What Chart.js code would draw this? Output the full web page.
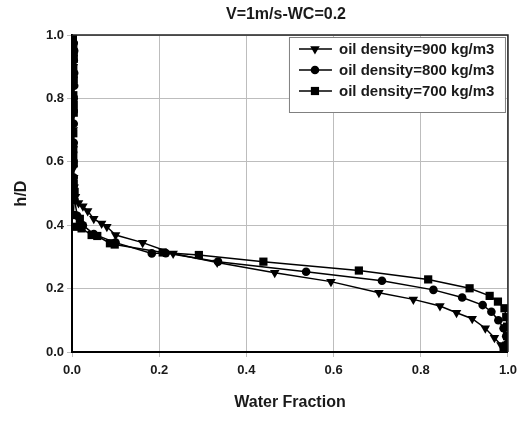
<!DOCTYPE html>
<html>
<head>
<meta charset="utf-8">
<script src="https://cdn.jsdelivr.net/npm/chart.js@4/dist/chart.umd.min.js"></script>
<style>
  html, body { margin: 0; padding: 0; background: #fff; }
  canvas { display: block; }
</style>
</head>
<body>
<canvas id="chart" width="523" height="421"></canvas>
<script>
// Profile h/D vs water fraction, three oil densities

const TITLE = 'V=1m/s-WC=0.2';
const X_TITLE = 'Water Fraction';
const Y_TITLE = 'h/D';
const SERIES_LABELS = ['oil density=900 kg/m3', 'oil density=800 kg/m3', 'oil density=700 kg/m3'];

// oil density 900 (triangles)
const x900 = [0.003, 0.003, 0.003, 0.003, 0.003, 0.003, 0.003, 0.003, 0.003, 0.003, 0.004, 0.005, 0.008, 0.015, 0.025, 0.036, 0.05, 0.068, 0.08, 0.1, 0.162, 0.232, 0.333, 0.465, 0.594, 0.704, 0.783, 0.844, 0.882, 0.918, 0.948, 0.969, 0.984, 0.995];
const y900 = [1.0, 0.97, 0.94, 0.9, 0.86, 0.8, 0.75, 0.7, 0.64, 0.58, 0.55, 0.52, 0.49, 0.47, 0.46, 0.445, 0.42, 0.405, 0.395, 0.369, 0.345, 0.311, 0.282, 0.25, 0.222, 0.187, 0.166, 0.145, 0.124, 0.105, 0.075, 0.045, 0.022, 0.005];

// oil density 800 (circles)
const x800 = [0.002, 0.004, 0.005, 0.004, 0.005, 0.005, 0.004, 0.004, 0.004, 0.004, 0.003, 0.004, 0.006, 0.012, 0.025, 0.05, 0.1, 0.183, 0.215, 0.335, 0.537, 0.711, 0.829, 0.895, 0.942, 0.962, 0.978, 0.99, 0.996, 0.998, 0.997];
const y800 = [1.0, 0.975, 0.95, 0.92, 0.88, 0.84, 0.8, 0.76, 0.72, 0.66, 0.6, 0.55, 0.48, 0.43, 0.4, 0.372, 0.345, 0.311, 0.312, 0.285, 0.253, 0.225, 0.196, 0.172, 0.148, 0.127, 0.1, 0.075, 0.05, 0.025, 0.005];

// oil density 700 (squares)
const x700 = [0.0, 0.002, 0.003, 0.004, 0.004, 0.003, 0.004, 0.003, 0.004, 0.004, 0.003, 0.003, 0.003, 0.004, 0.004, 0.006, 0.003, 0.018, 0.01, 0.022, 0.045, 0.058, 0.087, 0.098, 0.208, 0.291, 0.439, 0.658, 0.817, 0.912, 0.958, 0.977, 0.992, 0.996, 0.998, 0.998, 0.996, 0.99];
const y700 = [1.0, 0.985, 0.965, 0.945, 0.925, 0.895, 0.86, 0.81, 0.78, 0.755, 0.69, 0.64, 0.62, 0.595, 0.53, 0.505, 0.432, 0.42, 0.395, 0.39, 0.369, 0.366, 0.343, 0.339, 0.314, 0.306, 0.285, 0.257, 0.229, 0.201, 0.177, 0.159, 0.138, 0.11, 0.08, 0.05, 0.02, 0.005];

const X_TICKS = [0, 0.2, 0.4, 0.6, 0.8, 1.0];
const Y_TICKS = [0, 0.2, 0.4, 0.6, 0.8, 1.0];

const FONT = 'Arial, "Liberation Sans", sans-serif';
const INK = '#1a1a1a';

function pts(xs, ys) {
  return xs.map((x, i) => ({ x: x, y: ys[i] }));
}

function series(label, xs, ys, style, radius, rotation) {
  return {
    label: label,
    data: pts(xs, ys),
    showLine: true,
    borderColor: '#000',
    borderWidth: 1.5,
    backgroundColor: '#000',
    pointStyle: style,
    pointRotation: rotation,
    pointRadius: radius,
    pointBorderWidth: 0,
    pointBackgroundColor: '#000',
    tension: 0,
  };
}

// draw a marker the same way for the legend
function marker(ctx, style, x, y, r) {
  ctx.beginPath();
  if (style === 'triangle') {
    // pointing down
    ctx.moveTo(x - r * 0.866, y - r * 0.5);
    ctx.lineTo(x + r * 0.866, y - r * 0.5);
    ctx.lineTo(x, y + r);
    ctx.closePath();
  } else if (style === 'rect') {
    const s = r * Math.SQRT1_2;
    ctx.rect(x - s, y - s, 2 * s, 2 * s);
  } else {
    ctx.arc(x, y, r, 0, Math.PI * 2);
  }
  ctx.fill();
}

const framePlugin = {
  id: 'frame',
  afterDraw(chart) {
    const { ctx, chartArea: a } = chart;
    ctx.save();
    ctx.strokeStyle = '#222';
    ctx.lineWidth = 1.5;
    ctx.beginPath();
    ctx.moveTo(a.left, a.top);
    ctx.lineTo(a.right, a.top);
    ctx.lineTo(a.right, a.bottom);
    ctx.stroke();
    // title, centred over the plot area
    ctx.fillStyle = INK;
    ctx.font = 'bold 16px ' + FONT;
    ctx.textAlign = 'center';
    ctx.textBaseline = 'middle';
    ctx.fillText(TITLE, (a.left + a.right) / 2 - 4, 15);
    ctx.restore();
  },
};

const legendPlugin = {
  id: 'boxLegend',
  afterDraw(chart) {
    const { ctx, chartArea: a } = chart;
    const left = a.right - 219;
    const top = a.top + 2;
    const w = 216, h = 75, rowH = 21;
    ctx.save();
    ctx.fillStyle = '#fff';
    ctx.fillRect(left, top, w, h);
    ctx.strokeStyle = '#808080';
    ctx.lineWidth = 1;
    ctx.strokeRect(left + 0.5, top + 0.5, w, h);
    chart.data.datasets.forEach((ds, i) => {
      const cy = top + 12 + i * rowH;
      ctx.strokeStyle = '#000';
      ctx.lineWidth = 1.5;
      ctx.beginPath();
      ctx.moveTo(left + 10, cy);
      ctx.lineTo(left + 43, cy);
      ctx.stroke();
      ctx.fillStyle = '#000';
      marker(ctx, ds.pointStyle, left + 26, cy, ds.pointRadius);
      ctx.fillStyle = INK;
      ctx.font = 'bold 15px ' + FONT;
      ctx.textAlign = 'left';
      ctx.textBaseline = 'middle';
      ctx.fillText(ds.label, left + 50, cy + 1);
    });
    ctx.restore();
  },
};

const tickFont = { family: FONT, size: 13, weight: 'bold' };
const titleFont = { family: FONT, size: 16, weight: 'bold' };

new Chart(document.getElementById('chart'), {
  type: 'scatter',
  data: {
    datasets: [
      series(SERIES_LABELS[0], x900, y900, 'triangle', 5.5, 180),
      series(SERIES_LABELS[1], x800, y800, 'circle', 4.3, 0),
      series(SERIES_LABELS[2], x700, y700, 'rect', 5.8, 0),
    ],
  },
  options: {
    responsive: false,
    animation: false,
    devicePixelRatio: 1,
    layout: { padding: { left: 8, right: 12, top: 35, bottom: 4 } },
    plugins: {
      legend: { display: false },
      title: { display: false },
      tooltip: { enabled: false },
    },
    scales: {
      x: {
        type: 'linear',
        min: 0,
        max: 1,
        afterBuildTicks: (s) => { s.ticks = X_TICKS.map(v => ({ value: v })); },
        afterFit: (s) => { s.height = 65; },
        ticks: {
          font: tickFont,
          color: INK,
          padding: 6,
          maxRotation: 0,
          callback: (v) => Number(v).toFixed(1),
        },
        grid: { color: '#bdbdbd', lineWidth: 1, tickLength: 5, drawTicks: true },
        border: { color: '#000', width: 2 },
        title: { display: true, text: X_TITLE, font: titleFont, color: INK, padding: { top: 0, bottom: 5 } },
      },
      y: {
        type: 'linear',
        min: 0,
        max: 1,
        afterBuildTicks: (s) => { s.ticks = Y_TICKS.map(v => ({ value: v })); },
        afterFit: (s) => { s.width = 64; },
        ticks: {
          font: tickFont,
          color: INK,
          padding: 3,
          callback: (v) => Number(v).toFixed(1),
        },
        grid: { color: '#bdbdbd', lineWidth: 1, tickLength: 5 },
        border: { color: '#000', width: 2 },
        title: { display: true, text: Y_TITLE, font: titleFont, color: INK, padding: { top: 4, bottom: 0 } },
      },
    },
  },
  plugins: [framePlugin, legendPlugin],
});
</script>
</body>
</html>
